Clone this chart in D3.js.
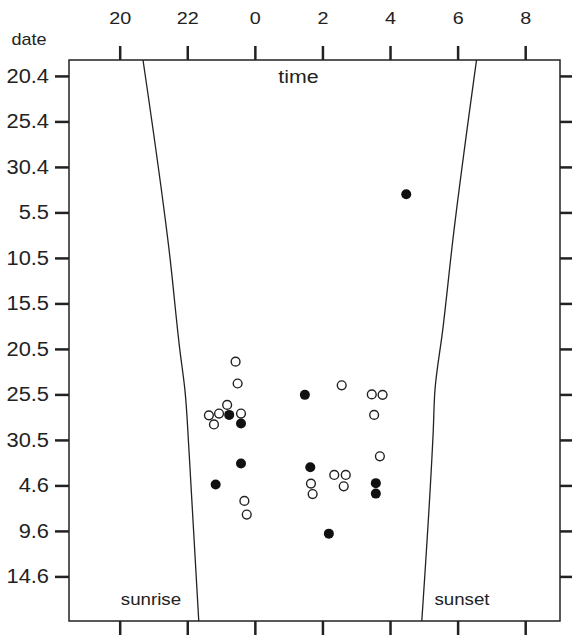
<!DOCTYPE html>
<html>
<head>
<meta charset="utf-8">
<script src="https://cdn.jsdelivr.net/npm/d3@7"></script>
<style>
  body { margin: 0; background: #fff; }
  text { font-family: "Liberation Sans", Arial, sans-serif; fill: #222; }
</style>
</head>
<body>
<div id="chart"></div>
<script>
// hours on the clock, x ticks
var hourTicks  = [-4, -2, 0, 2, 4, 6, 8];
var hourLabels = ["20", "22", "0", "2", "4", "6", "8"];

// days counted from 20 April, y ticks
var dayTicks  = [0, 5, 10, 15, 20, 25, 30, 35, 40, 45, 50, 55];
var dayLabels = ["20.4", "25.4", "30.4", "5.5", "10.5", "15.5", "20.5", "25.5", "30.5", "4.6", "9.6", "14.6"];

// open circles: clock time, day
var openTime = [23.43, 23.49, 2.57, 3.46, 3.78, 23.18, 22.64, 22.94, 23.59, 22.79, 3.53, 3.70, 2.35, 2.69, 2.63, 1.66, 1.71, 23.69, 23.76];
var openDay  = [31.4, 33.8, 34.0, 35.0, 35.05, 36.15, 37.3, 37.1, 37.1, 38.3, 37.25, 41.8, 43.85, 43.85, 45.1, 44.8, 45.95, 46.7, 48.2];

// filled circles
var fillTime = [23.24, 23.59, 1.48, 23.59, 22.84, 1.64, 3.58, 3.58, 2.19, 4.48];
var fillDay  = [37.25, 38.2, 35.05, 42.6, 44.9, 43.0, 44.75, 45.9, 50.3, 13.0];

// the two sun lines
var leftLineTime  = [20.69, 21.48, 21.78, 21.93, 22.05, 22.34];
var leftLineDay   = [-1.75, 19.7, 30.1, 34.5, 41.1, 59.9];
var rightLineTime = [6.56, 5.86, 5.56, 5.33, 5.28, 4.94];
var rightLineDay  = [-1.75, 18.0, 27.9, 34.5, 38.9, 59.9];

var margin = {top: 60, right: 12, bottom: 14, left: 69},
    width  = 560 - margin.left,
    height = 621 - margin.top;

var ink = "#222";

// clock hour to hours from midnight
function rel(h) { return h > 12 ? h - 24 : h; }

// the original lettering is a bit wider than Liberation Sans
function stretch(sel, k) {
  sel.each(function() {
    var w = this.getComputedTextLength();
    d3.select(this)
      .attr("textLength", w * k)
      .attr("lengthAdjust", "spacingAndGlyphs");
  });
}

var svg = d3.select("#chart")
  .append("svg")
    .attr("width", 572)
    .attr("height", 635)
  .append("g")
    .attr("transform", "translate(" + margin.left + "," + margin.top + ")");

var x = d3.scaleLinear().domain([-5.5, 9.03]).range([0, width]);
var y = d3.scaleLinear().domain([-1.75, 59.9]).range([0, height]);

// frame
svg.append("rect")
  .attr("width", width)
  .attr("height", height)
  .attr("fill", "none")
  .attr("stroke", ink)
  .attr("stroke-width", 1.5);

// top axis
var topAxis = svg.append("g")
  .call(d3.axisTop(x).tickValues(hourTicks).tickSize(14).tickPadding(22)
    .tickFormat(function(d, i) { return hourLabels[i]; }));

// bottom axis
var bottomAxis = svg.append("g")
  .attr("transform", "translate(0," + height + ")")
  .call(d3.axisBottom(x).tickValues(hourTicks).tickSize(14).tickFormat(""));

// left axis
var leftAxis = svg.append("g")
  .call(d3.axisLeft(y).tickValues(dayTicks).tickSize(14).tickPadding(6)
    .tickFormat(function(d, i) { return dayLabels[i]; }));

// right axis
var rightAxis = svg.append("g")
  .attr("transform", "translate(" + width + ",0)")
  .call(d3.axisRight(y).tickValues(dayTicks).tickSize(14).tickFormat(""));

[topAxis, bottomAxis, leftAxis, rightAxis].forEach(function(a) {
  a.select(".domain").remove();
  a.selectAll(".tick line").attr("stroke", ink).attr("stroke-width", 2.5);
  a.selectAll(".tick text").attr("fill", ink);
});

topAxis.selectAll(".tick text").style("font-size", "17px").attr("dy", 0).call(stretch, 1.16);
leftAxis.selectAll(".tick text").style("font-size", "19.5px").call(stretch, 1.12);

// sun lines
var line = d3.line()
  .x(function(d) { return x(rel(d[0])); })
  .y(function(d) { return y(d[1]); })
  .curve(d3.curveMonotoneY);

svg.append("path")
  .datum(d3.zip(leftLineTime, leftLineDay))
  .attr("d", line)
  .attr("fill", "none")
  .attr("stroke", ink)
  .attr("stroke-width", 1.3);

svg.append("path")
  .datum(d3.zip(rightLineTime, rightLineDay))
  .attr("d", line)
  .attr("fill", "none")
  .attr("stroke", ink)
  .attr("stroke-width", 1.3);

// points
svg.selectAll(".open")
  .data(d3.zip(openTime, openDay))
  .enter()
  .append("circle")
    .attr("class", "open")
    .attr("cx", function(d) { return x(rel(d[0])); })
    .attr("cy", function(d) { return y(d[1]); })
    .attr("r", 4.4)
    .attr("fill", "#fff")
    .attr("stroke", ink)
    .attr("stroke-width", 1.4);

svg.selectAll(".filled")
  .data(d3.zip(fillTime, fillDay))
  .enter()
  .append("circle")
    .attr("class", "filled")
    .attr("cx", function(d) { return x(rel(d[0])); })
    .attr("cy", function(d) { return y(d[1]); })
    .attr("r", 5)
    .attr("fill", "#111");

// labels
svg.append("text")
  .attr("x", 298.5 - margin.left).attr("y", 23)
  .attr("text-anchor", "middle")
  .style("font-size", "17.5px")
  .text("time")
  .call(stretch, 1.22);

svg.append("text")
  .attr("x", 151 - margin.left).attr("y", 545)
  .attr("text-anchor", "middle")
  .style("font-size", "17px")
  .text("sunrise")
  .call(stretch, 1.1);

svg.append("text")
  .attr("x", 462 - margin.left).attr("y", 545)
  .attr("text-anchor", "middle")
  .style("font-size", "17px")
  .text("sunset")
  .call(stretch, 1.1);

svg.append("text")
  .attr("x", 29 - margin.left).attr("y", -15)
  .attr("text-anchor", "middle")
  .style("font-size", "17px")
  .text("date")
  .call(stretch, 1.06);
</script>
</body>
</html>
